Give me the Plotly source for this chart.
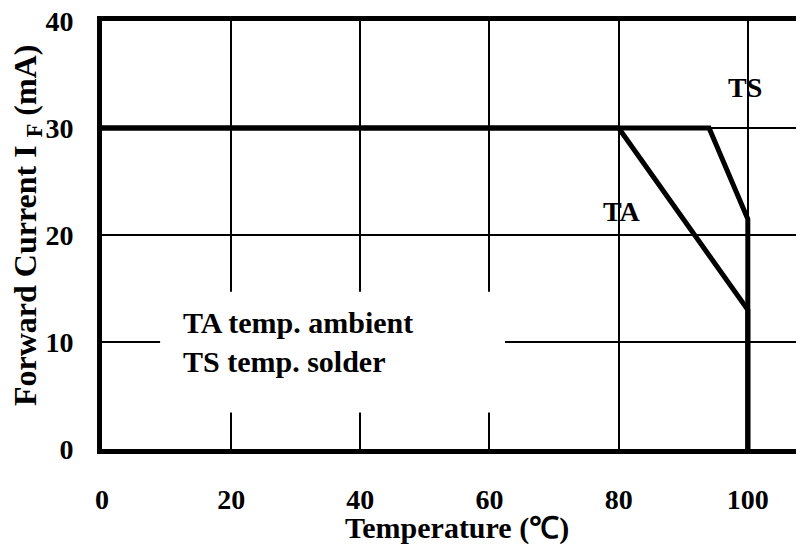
import plotly.graph_objects as go

# Data
ta_x = [0, 80, 100, 100]
ta_y = [30, 30, 13, 0]
ts_x = [0, 94, 100, 100]
ts_y = [30, 30, 21.5, 0]

x_ticks = [0, 20, 40, 60, 80, 100]
y_ticks = [0, 10, 20, 30, 40]

FONT = "Liberation Serif"
FS = 28

def bold(size):
    return dict(family=FONT, size=size, color="black", weight="bold")

fig = go.Figure()
for xs, ys in [(ta_x, ta_y), (ts_x, ts_y)]:
    fig.add_trace(go.Scatter(x=xs, y=ys, mode="lines",
                             line=dict(color="black", width=5),
                             showlegend=False, hoverinfo="skip"))

# white box behind the legend text (covers grid lines)
fig.add_shape(type="rect", x0=9.0, x1=62.4, y0=3.4, y1=14.7,
              fillcolor="white", line=dict(width=0), layer="between")

fig.add_annotation(x=12.3, y=10.0, xanchor="left", yanchor="middle",
                   text="TA temp. ambient<br>TS temp. solder", align="left",
                   showarrow=False, font=bold(30))
fig.add_annotation(x=80.5, y=22.2, text="TA", showarrow=False, font=bold(FS))
fig.add_annotation(x=99.5, y=33.8, text="TS", showarrow=False, font=bold(FS))

# axis titles
fig.add_annotation(xref="paper", yref="paper", x=0.506, y=-0.185,
                   xanchor="center", yanchor="middle", showarrow=False,
                   text="Temperature (℃)", font=bold(30))
fig.add_annotation(xref="paper", yref="paper", x=-0.107, y=0.523,
                   xanchor="center", yanchor="middle", showarrow=False,
                   textangle=-90, text="Forward Current I <sub>F</sub> (mA)",
                   font=bold(32))

fig.update_layout(
    width=804, height=551,
    margin=dict(l=94, r=8, t=13, b=110),
    paper_bgcolor="white", plot_bgcolor="white",
    font=dict(family=FONT, size=FS, color="black"),
    xaxis=dict(range=[0, 108.7], tickvals=x_ticks, showgrid=True,
               gridcolor="black", gridwidth=1.5, zeroline=False,
               showline=True, linecolor="black", linewidth=5, mirror=True,
               ticks="", ticklabelstandoff=21, automargin=False,
               ticklabeloverflow="allow", tickfont=bold(FS)),
    yaxis=dict(range=[0, 40], tickvals=y_ticks, showgrid=True,
               gridcolor="black", gridwidth=1.5, zeroline=False,
               showline=True, linecolor="black", linewidth=5,
               ticks="", ticklabelstandoff=18, automargin=False,
               ticklabeloverflow="allow", tickfont=bold(FS)),
)

fig.write_html("out.html")
